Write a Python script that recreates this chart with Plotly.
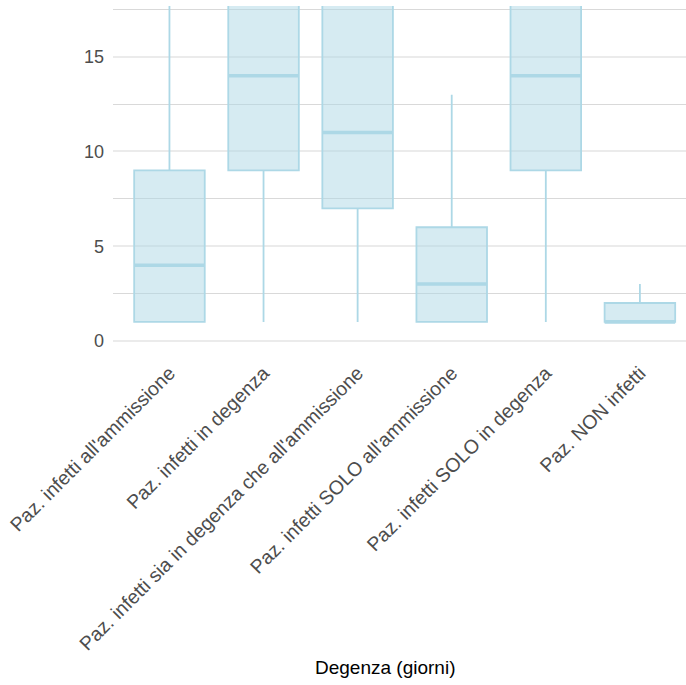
import plotly.graph_objects as go

# Length-of-stay distribution (days) per patient group
categories = [
    "Paz. infetti all'ammissione",
    "Paz. infetti in degenza",
    "Paz. infetti sia in degenza che all'ammissione",
    "Paz. infetti SOLO all'ammissione",
    "Paz. infetti SOLO in degenza",
    "Paz. NON infetti",
]
lower_fence = [1, 1, 1, 1, 1, 1]
q1_vals = [1, 9, 7, 1, 9, 1]
median_vals = [4, 14, 11, 3, 14, 1]
q3_vals = [9, 24, 20, 6, 24, 2]
upper_fence = [21, 45, 39, 13, 45, 3]

y_ticks = [0, 5, 10, 15]

LINE = "#add8e6"
FILL = "rgba(173,216,230,0.5)"
FONT = "Liberation Sans, Arial, sans-serif"

fig = go.Figure()

# Boxes with whiskers
fig.add_trace(go.Box(
    x=categories,
    q1=q1_vals, median=median_vals, q3=q3_vals,
    lowerfence=lower_fence, upperfence=upper_fence,
    boxpoints=False,
    width=0.75,
    whiskerwidth=0,
    fillcolor=FILL,
    line=dict(color=LINE, width=1.8),
    showlegend=False,
    hoverinfo="skip",
))

# Heavier median bar drawn on top of each box
fig.add_trace(go.Box(
    x=categories,
    q1=median_vals, median=median_vals, q3=median_vals,
    lowerfence=median_vals, upperfence=median_vals,
    boxpoints=False,
    width=0.75,
    whiskerwidth=0,
    fillcolor="rgba(0,0,0,0)",
    line=dict(color=LINE, width=3.5),
    showlegend=False,
    hoverinfo="skip",
))

fig.update_layout(
    width=686, height=685,
    margin=dict(l=113, r=0, t=6, b=328),
    paper_bgcolor="white",
    plot_bgcolor="white",
    boxmode="overlay",
    font=dict(family=FONT, color="#4d4d4d", size=18),
    xaxis=dict(
        type="category",
        range=[-0.6, 5.49],
        showgrid=False,
        zeroline=False,
        showline=False,
        tickangle=-45,
        ticks="",
        tickfont=dict(family=FONT, size=19.5, color="#4d4d4d"),
    ),
    yaxis=dict(
        range=[-0.85, 17.68],
        tickvals=y_ticks,
        showgrid=True,
        gridcolor="#ebebeb",
        gridwidth=2,
        minor=dict(dtick=2.5, tick0=0, showgrid=True, gridcolor="#d9d9d9", gridwidth=1),
        zeroline=False,
        showline=False,
        ticks="",
        ticklabelstandoff=8,
        tickfont=dict(family=FONT, size=18, color="#4d4d4d"),
    ),
    annotations=[dict(
        text="Degenza (giorni)",
        xref="paper", yref="paper",
        x=0.475, y=-0.885,
        xanchor="center", yanchor="middle",
        showarrow=False,
        font=dict(family=FONT, size=19, color="black"),
    )],
)

fig.write_html("out.html")
